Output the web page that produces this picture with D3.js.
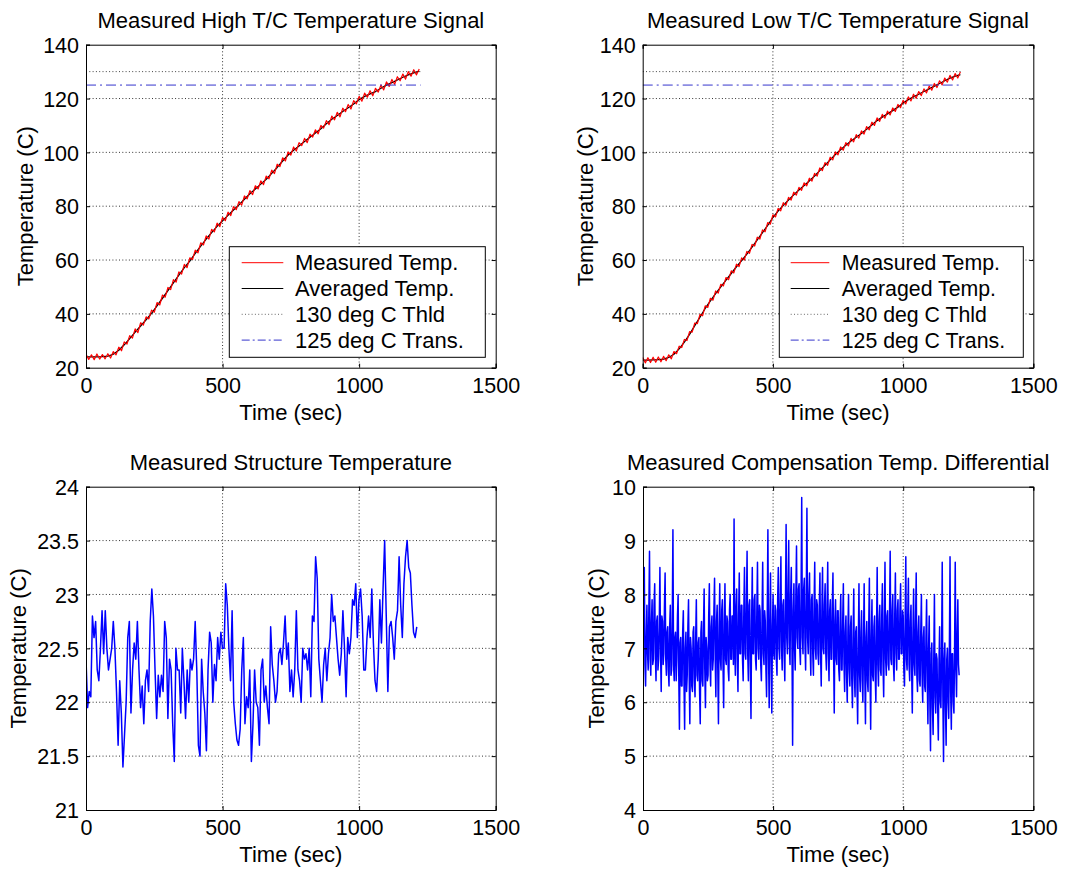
<!DOCTYPE html>
<html><head><meta charset="utf-8">
<script src="https://cdn.jsdelivr.net/npm/d3@7/dist/d3.min.js"></script>
<style>
body{margin:0;background:#fff}
svg{display:block}
text{font-family:"Liberation Sans",Arial,Helvetica,sans-serif;fill:#000}
</style>
</head><body>
<svg id="chart" width="1088" height="871"></svg>
<script>
// ---------------- DATA ----------------
const timeTicks = [0, 500, 1000, 1500];
const tcTempTicks = [20, 40, 60, 80, 100, 120, 140];
const structTicks = [21, 21.5, 22, 22.5, 23, 23.5, 24];
const compTicks = [4, 5, 6, 7, 8, 9, 10];

const legendLabels = ["Measured Temp.", "Averaged Temp.", "130 deg C Thld", "125 deg C Trans."];
const thresholdTime = [0, 1225];
const thresholdHigh = [130, 130];
const transitionLevel = [125, 125];

// averaged temperatures, one value every 20 s (0..1220 s)
const avgStepSec = 20;
const highAveraged = [24.0,24.0,24.0,24.1,24.3,25.0,26.5,28.5,30.8,33.2,35.5,37.8,40.2,43.0,45.8,48.6,51.5,54.4,57.2,59.6,
  62.5,65.2,67.8,70.2,72.5,74.6,76.6,78.6,80.5,82.6,84.6,86.4,88.2,90.0,92.2,94.4,96.8,99.0,100.8,102.4,
  104.0,105.6,107.2,108.8,110.6,112.3,113.7,115.2,116.6,118.0,119.6,120.8,121.7,122.6,123.8,125.0,125.9,126.9,127.9,128.8,
  129.5,130.2];
const lowAveraged = [22.8,22.8,22.9,23.0,23.2,23.8,25.0,27.0,29.5,32.4,35.6,38.8,42.0,44.8,47.5,50.0,52.5,55.0,57.5,59.8,
  62.2,64.8,67.5,70.2,72.9,75.8,78.2,80.3,82.3,84.2,86.0,87.7,89.4,91.2,93.2,95.2,97.2,99.2,101.0,102.6,
  104.2,105.6,107.0,108.6,110.2,111.8,113.1,114.3,115.5,116.8,118.3,119.6,120.6,121.6,122.6,123.6,124.6,125.6,126.6,127.6,
  128.3,128.9];

// measured (noisy) temperatures, one value every 10 s (0..1220 s)
const measStepSec = 10;
const highMeasured = [25.0,23.1,24.8,23.0,25.1,23.2,24.9,23.3,25.2,23.6,
  26.0,24.8,27.6,26.3,29.6,28.8,31.9,31.0,34.4,33.0,
  36.7,35.8,38.9,38.1,41.4,40.6,44.2,43.3,47.0,46.2,
  49.8,49.0,52.7,51.8,55.6,54.8,58.4,57.2,60.8,60.2,
  63.7,62.7,66.4,65.6,69.0,67.8,71.4,70.5,73.7,72.4,
  75.8,74.6,77.8,76.5,79.8,78.7,81.7,80.4,83.8,82.7,
  85.8,84.3,87.6,86.4,89.4,88.0,91.2,90.2,93.4,92.1,
  95.6,94.7,98.0,96.8,100.2,99.0,102.0,100.5,103.6,102.5,
  105.2,103.6,106.8,105.7,108.4,106.9,110.0,109.0,111.8,110.3,
  113.5,112.1,114.9,113.2,116.4,115.1,117.8,116.1,119.2,118.0,
  120.8,119.0,122.0,120.5,122.9,121.0,123.8,122.4,125.0,123.2,
  126.2,124.5,127.1,125.3,128.1,126.6,129.1,127.2,130.0,128.3,
  130.7,128.8,131.0];
const lowMeasured = [23.8,21.8,23.7,21.9,23.9,22.0,24.0,22.2,24.2,22.6,
  24.8,23.3,26.0,25.2,28.0,27.5,30.5,30.1,33.4,33.2,
  36.6,36.4,39.8,39.3,43.0,42.4,45.8,45.1,48.5,47.7,
  51.0,50.4,53.5,52.7,56.0,55.2,58.5,57.6,60.8,60.0,
  63.2,62.5,65.8,65.2,68.5,67.8,71.2,70.5,73.9,73.3,
  76.8,76.0,79.2,78.3,81.3,80.3,83.3,82.3,85.2,84.1,
  87.0,85.9,88.7,87.6,90.4,89.3,92.2,91.2,94.2,93.2,
  96.2,95.2,98.2,97.2,100.2,99.1,102.0,100.8,103.6,102.4,
  105.2,103.9,106.6,105.3,108.0,106.8,109.6,108.4,111.2,110.0,
  112.8,111.5,114.1,112.7,115.3,113.9,116.5,115.2,117.8,116.6,
  119.3,118.0,120.6,119.1,121.6,120.1,122.6,121.1,123.6,122.1,
  124.6,123.1,125.6,124.1,126.6,125.1,127.6,126.1,128.6,126.9,
  129.3,127.6,129.9];

// structure temperature, evenly spaced samples over 0..1211 s
const structEndSec = 1211;
const structTemp = [22.4,21.95,22.1,22.05,22.8,22.6,22.75,22.3,22.2,22.5,22.85,22.45,22.85,22.5,22.3,22.4,22.5,22.75,22.5,22.1,
  21.6,22.2,21.9,21.4,21.7,22.0,22.6,22.75,21.9,22.3,22.55,22.4,22.75,22.3,21.95,22.15,21.8,22.2,22.3,22.1,
  22.75,23.05,22.8,22.3,21.85,22.25,22.05,22.25,22.1,22.75,22.6,21.85,22.4,22.3,21.8,21.45,22.5,22.3,22.3,21.9,
  22.5,22.2,21.85,22.3,22.0,22.4,22.3,22.4,22.75,22.3,21.6,21.5,22.4,22.1,21.9,21.55,22.3,22.65,22.55,22.0,
  22.35,22.2,22.6,22.4,22.65,22.5,22.5,23.1,22.9,22.5,22.2,22.85,22.0,21.8,21.65,21.6,21.75,22.3,22.6,21.8,
  22.05,21.95,22.3,21.45,21.8,22.3,22.0,21.95,21.6,22.3,22.4,22.0,22.15,21.95,21.8,22.7,22.35,22.2,22.0,22.1,
  22.45,22.5,22.35,22.55,22.8,22.4,22.55,22.1,22.3,22.05,22.3,22.85,22.3,22.2,22.0,22.5,22.4,22.45,22.3,22.5,
  22.05,22.8,22.75,23.35,23.15,22.4,22.2,22.0,22.35,22.5,22.2,22.45,22.6,23.0,22.75,22.8,22.6,22.4,22.25,22.45,
  22.85,22.5,22.05,22.6,22.45,22.6,22.95,22.9,23.1,22.6,22.95,23.05,22.8,22.3,22.3,22.6,22.8,22.6,23.05,22.55,
  22.2,22.1,22.4,22.95,22.55,23.05,23.5,22.8,22.1,22.7,22.75,22.6,22.4,22.75,22.85,23.35,22.9,22.6,23.1,23.35,
  23.5,23.25,23.2,22.9,22.65,22.6,22.7];

// compensation temperature differential, one value every 2.5 s
const compStepSec = 2.5;
const compDiff = [
  7.0,7.6,8.5,6.7,6.3,7.2,7.8,6.9,6.6,7.7,8.8,6.8,6.5,7.5,7.9,6.7,6.8,7.8,8.2,6.9,
  6.4,7.5,7.6,6.6,6.8,7.4,8.5,6.9,6.2,7.6,7.5,6.7,6.9,7.8,8.4,6.8,6.5,7.3,7.4,6.6,
  6.3,7.4,7.8,6.5,6.6,7.5,9.2,6.7,6.4,7.2,7.3,6.4,6.8,7.6,8.0,6.5,5.5,7.1,7.2,6.3,
  6.3,7.3,7.7,6.4,5.5,7.0,7.3,6.2,6.5,7.4,7.9,6.5,5.6,7.2,7.0,6.3,6.2,7.3,7.4,6.4,
  6.1,7.2,7.9,6.5,6.4,7.1,7.2,6.2,5.6,7.3,7.5,6.4,6.3,7.4,8.1,6.6,5.9,7.2,7.0,6.4,
  6.5,7.6,8.2,6.7,6.3,7.4,7.6,6.6,6.8,7.7,8.3,6.8,6.1,7.5,7.8,6.6,5.6,7.4,8.2,6.8,
  6.6,7.7,7.9,6.7,5.9,7.5,8.2,6.8,6.7,7.6,7.5,6.6,6.4,7.7,8.0,6.8,6.8,7.6,7.6,6.7,
  9.4,7.0,6.5,7.8,8.1,6.8,6.2,7.6,8.4,6.9,6.9,7.8,7.8,6.8,6.4,7.7,8.5,6.9,6.8,7.8,
  8.8,6.9,6.4,7.8,7.9,6.7,5.7,7.5,8.5,6.9,6.9,7.9,8.0,6.8,6.6,7.7,8.6,7.0,6.8,7.8,
  7.7,6.7,6.4,7.6,8.6,6.9,6.7,7.7,7.5,6.6,6.1,7.6,9.2,6.9,5.9,7.5,8.4,6.8,5.8,7.4,
  8.0,6.9,6.8,7.8,7.7,6.8,6.5,7.9,8.5,7.0,6.8,7.9,8.7,7.0,6.6,7.8,7.9,6.9,6.4,7.8,
  9.3,7.2,6.9,8.1,9.0,7.1,6.7,8.0,8.5,7.1,5.2,7.7,8.2,7.0,6.6,8.0,8.9,7.2,7.0,8.1,
  8.2,7.0,6.7,8.0,9.8,7.2,6.9,8.1,8.3,7.1,6.6,7.9,9.6,7.2,6.9,8.0,8.4,7.0,6.5,7.9,
  8.0,6.9,6.5,7.8,8.6,7.0,6.8,7.9,7.8,6.9,6.7,7.8,8.4,6.9,6.3,7.7,8.5,7.0,6.9,7.8,
  8.2,6.9,6.6,7.8,8.6,6.9,6.4,7.7,7.9,6.8,6.8,7.8,8.4,6.9,5.8,7.5,7.9,6.8,6.7,7.7,
  7.7,6.6,6.4,7.5,8.0,6.6,6.6,7.5,8.2,6.7,6.2,7.3,7.6,6.5,6.0,7.3,8.0,6.6,6.3,7.4,
  7.6,6.4,5.9,7.2,8.1,6.5,6.1,7.3,7.4,6.3,5.6,7.1,8.2,6.5,6.2,7.3,7.7,6.4,6.0,7.2,
  8.2,6.5,5.6,7.2,7.5,6.4,6.2,7.4,8.3,6.6,5.5,7.2,7.9,6.5,6.4,7.4,7.6,6.5,6.0,7.3,
  8.5,6.7,6.3,7.5,7.8,6.6,6.5,7.6,8.2,6.7,6.1,7.4,8.6,6.8,6.5,7.6,7.7,6.7,6.6,7.6,
  8.8,6.8,6.7,7.7,8.0,6.7,6.4,7.6,8.4,6.9,6.6,7.7,7.9,6.8,6.8,7.7,8.2,6.9,6.9,7.7,
  7.6,6.6,6.3,7.5,8.7,6.8,6.6,7.6,8.3,6.7,6.4,7.5,7.8,6.6,5.8,7.3,8.1,6.7,6.5,7.5,
  8.4,6.5,6.2,7.3,7.6,6.4,6.3,7.3,8.0,6.5,6.0,7.2,7.4,6.3,6.2,7.2,7.9,6.4,5.6,7.0,
  7.6,6.0,5.1,6.9,7.1,5.9,5.4,6.8,8.0,6.1,5.8,6.9,6.8,5.9,5.3,6.7,7.4,6.0,5.9,6.9,
  8.6,6.1,4.9,6.8,7.1,5.9,5.2,6.8,7.0,6.0,5.7,7.0,8.7,6.2,5.5,6.9,6.9,6.0,5.8,7.0,
  8.6,6.6,6.1,7.3,7.9,6.7,6.5];

// ---------------- DRAW ----------------
const svg = d3.select("#chart");
const FONT = 22;

function toSeries(values, step) { return values.map((v, i) => [i * step, v]); }
function toSeriesSpan(values, end) { const s = end / (values.length - 1); return values.map((v, i) => [i * s, v]); }

function panel(cfg) {
  const x = d3.scaleLinear().domain([0, 1500]).range([cfg.left, cfg.right]);
  const y = d3.scaleLinear().domain(cfg.yDomain).range([cfg.bottom, cfg.top]);
  const g = svg.append("g");
  const w = cfg.right - cfg.left, h = cfg.bottom - cfg.top;

  g.append("rect").attr("x", cfg.left).attr("y", cfg.top).attr("width", w).attr("height", h).attr("fill", "#fff");

  // grid (dotted)
  const grid = g.append("g").attr("stroke", "#333").attr("stroke-width", 1).attr("stroke-dasharray", "1,2.3");
  timeTicks.slice(1, -1).forEach(t => grid.append("line").attr("x1", x(t)).attr("x2", x(t)).attr("y1", cfg.top).attr("y2", cfg.bottom));
  cfg.yTicks.slice(1, -1).forEach(v => grid.append("line").attr("x1", cfg.left).attr("x2", cfg.right).attr("y1", y(v)).attr("y2", y(v)));

  // data
  const clip = "clip" + cfg.id;
  g.append("clipPath").attr("id", clip).append("rect").attr("x", cfg.left).attr("y", cfg.top).attr("width", w).attr("height", h);
  const data = g.append("g").attr("clip-path", `url(#${clip})`);
  const line = d3.line().x(d => x(d[0])).y(d => y(d[1]));
  cfg.lines.forEach(L => {
    data.append("path").attr("d", line(L.pts)).attr("fill", "none").attr("stroke", L.color)
      .attr("stroke-width", L.width).attr("stroke-dasharray", L.dash || null).attr("stroke-linejoin", "round");
  });

  // axes with inward ticks
  const tl = 4;
  const xb = d3.axisBottom(x).tickValues(timeTicks).tickSize(-tl).tickPadding(12).tickFormat(d3.format("d"));
  const xt = d3.axisTop(x).tickValues(timeTicks).tickSize(-tl).tickFormat("");
  const yl = d3.axisLeft(y).tickValues(cfg.yTicks).tickSize(-tl).tickPadding(10).tickFormat(d => String(d));
  const yr = d3.axisRight(y).tickValues(cfg.yTicks).tickSize(-tl).tickFormat("");
  const ax = [
    g.append("g").attr("transform", `translate(0,${cfg.bottom})`).call(xb),
    g.append("g").attr("transform", `translate(0,${cfg.top})`).call(xt),
    g.append("g").attr("transform", `translate(${cfg.left},0)`).call(yl),
    g.append("g").attr("transform", `translate(${cfg.right},0)`).call(yr)
  ];
  ax.forEach(a => {
    a.select(".domain").attr("stroke", "#000");
    a.selectAll(".tick line").attr("stroke", "#000");
    a.selectAll("text").attr("font-size", 21.5).attr("font-family", "Liberation Sans, Arial, sans-serif").attr("fill", "#000");
  });
  ax[0].selectAll("text").attr("dy", "0").attr("y", 25);
  ax[2].selectAll("text").attr("dy", "0.36em").attr("x", -7);

  // title & labels
  g.append("text").attr("x", (cfg.left + cfg.right) / 2).attr("y", cfg.top - 17).attr("text-anchor", "middle")
    .attr("font-size", FONT).text(cfg.title);
  g.append("text").attr("x", (cfg.left + cfg.right) / 2).attr("y", cfg.bottom + 52).attr("text-anchor", "middle")
    .attr("font-size", FONT).text("Time (sec)");
  g.append("text").attr("transform", `translate(${cfg.left - cfg.ylabelOff},${(cfg.top + cfg.bottom) / 2}) rotate(-90)`)
    .attr("text-anchor", "middle").attr("font-size", FONT).text("Temperature (C)");

  // legend
  if (cfg.legend) {
    const L = cfg.legend;
    const lg = g.append("g");
    lg.append("rect").attr("x", L.x).attr("y", L.y).attr("width", L.w).attr("height", 110.6)
      .attr("fill", "#fff").attr("stroke", "#000").attr("stroke-width", 1);
    const styles = [
      {color: "#ff0000", dash: null},
      {color: "#000000", dash: null},
      {color: "#666", dash: "1,2.3"},
      {color: "#3535cc", dash: "8,3,2,3"}
    ];
    legendLabels.forEach((lab, i) => {
      const cy = L.y + 16 + i * 25.8;
      lg.append("line").attr("x1", L.x + L.lx0).attr("x2", L.x + L.lx1).attr("y1", cy).attr("y2", cy)
        .attr("stroke", styles[i].color).attr("stroke-width", 1).attr("stroke-dasharray", styles[i].dash);
      lg.append("text").attr("x", L.x + L.tx).attr("y", cy + 7.5).attr("font-size", L.fs).text(lab);
    });
  }
}

function tcLines(avg, meas) {
  return [
    {pts: toSeries(avg, avgStepSec), color: "#000", width: 1.3},
    {pts: toSeries(meas, measStepSec), color: "#ff0000", width: 1.2},
    {pts: thresholdTime.map((t, i) => [t, thresholdHigh[i]]), color: "#444", width: 1, dash: "1,2.3"},
    {pts: thresholdTime.map((t, i) => [t, transitionLevel[i]]), color: "#3535cc", width: 1, dash: "10,4,2,4"}
  ];
}

panel({id: 1, left: 86, right: 495.7, top: 44.7, bottom: 367.7, yDomain: [20, 140], yTicks: tcTempTicks,
  title: "Measured High T/C Temperature Signal", ylabelOff: 53,
  lines: tcLines(highAveraged, highMeasured),
  legend: {x: 229.3, y: 246.7, w: 256, lx0: 12.4, lx1: 54, tx: 65.7, fs: 22}});
panel({id: 2, left: 642.7, right: 1033.3, top: 44.7, bottom: 367.7, yDomain: [20, 140], yTicks: tcTempTicks,
  title: "Measured Low T/C Temperature Signal", ylabelOff: 50,
  lines: tcLines(lowAveraged, lowMeasured),
  legend: {x: 779.3, y: 246.7, w: 244, lx0: 11.4, lx1: 50, tx: 62.4, fs: 21.3}});
panel({id: 3, left: 86, right: 495.7, top: 486.7, bottom: 810, yDomain: [21, 24], yTicks: structTicks,
  title: "Measured Structure Temperature", ylabelOff: 60,
  lines: [{pts: toSeriesSpan(structTemp, structEndSec), color: "#0000ff", width: 1.5}]});
panel({id: 4, left: 643, right: 1033.3, top: 486.7, bottom: 810, yDomain: [4, 10], yTicks: compTicks,
  title: "Measured Compensation Temp. Differential", ylabelOff: 39,
  lines: [{pts: toSeries(compDiff, compStepSec), color: "#0000ff", width: 1.5}]});
</script>
</body></html>
